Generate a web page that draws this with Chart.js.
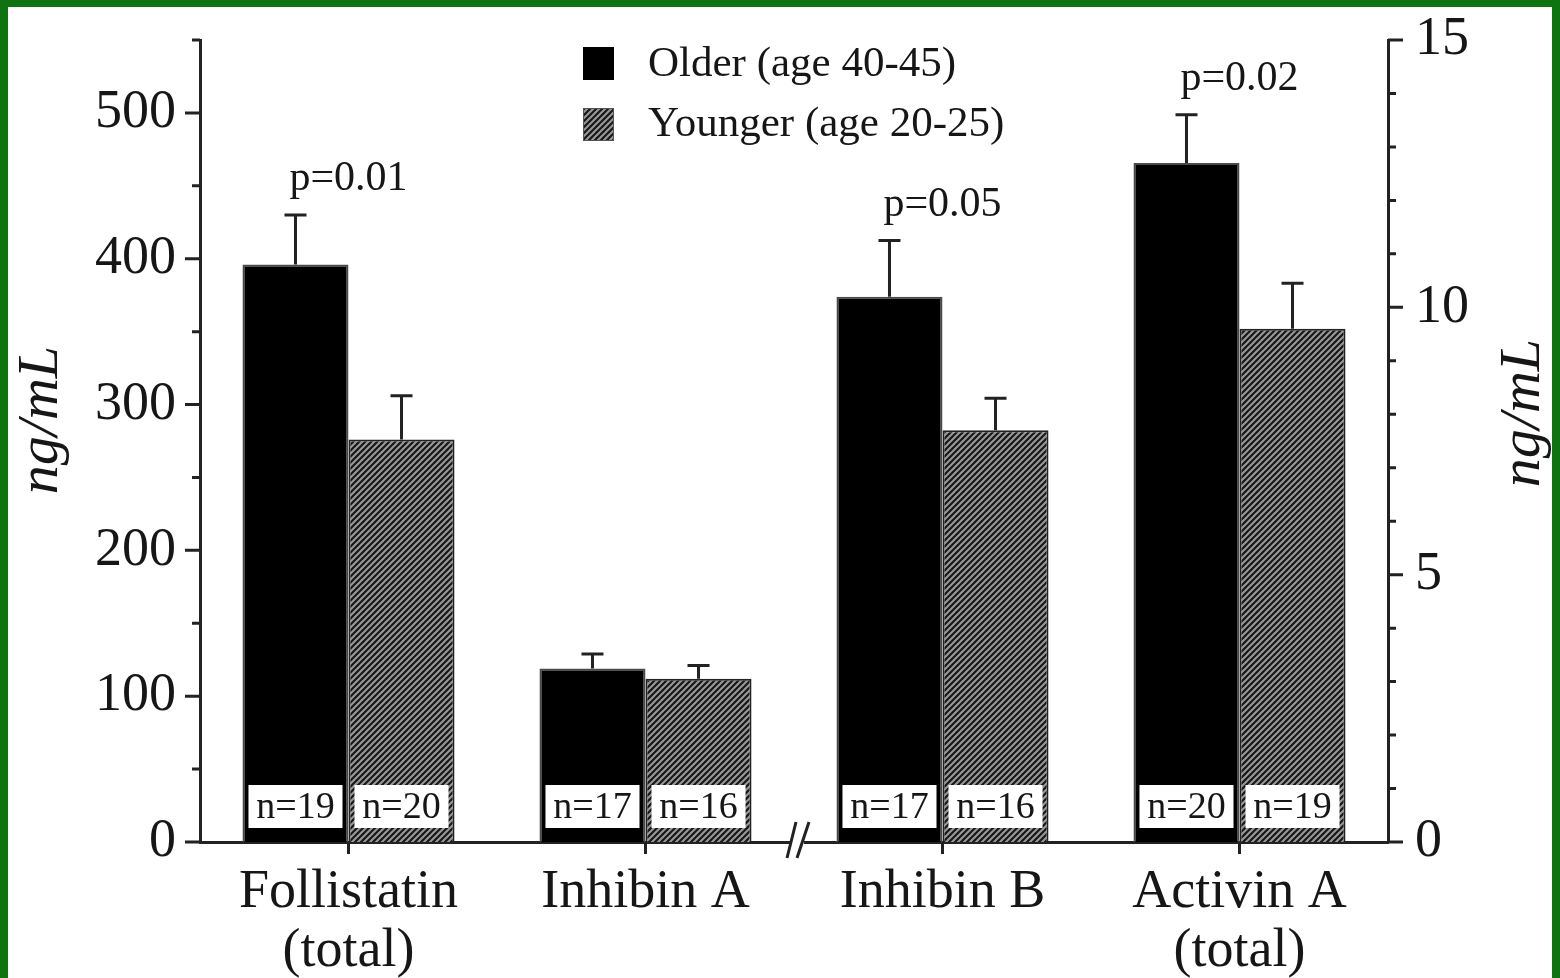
<!DOCTYPE html>
<html>
<head>
<meta charset="utf-8">
<script src="https://cdn.jsdelivr.net/npm/chart.js@4"></script>
<style>
  html, body { margin: 0; padding: 0; background: #fff; }
  canvas { display: block; }
</style>
</head>
<body>
<canvas id="myChart" width="1560" height="978"></canvas>
<script>
// values
const categories = [["Follistatin", "(total)"], "Inhibin A", "Inhibin B", ["Activin A", "(total)"]];
const axisSide = ["left", "left", "right", "right"];
const older = [396, 119, 10.2, 12.7];
const younger = [276, 112, 7.7, 9.6];
const olderErr = [34, 10, 1.05, 0.9];
const youngerErr = [30, 9, 0.6, 0.85];
const olderN = [19, 17, 17, 20];
const youngerN = [20, 16, 16, 19];
const pLabels = ["p=0.01", null, "p=0.05", "p=0.02"];
const leftTicks = [0, 100, 200, 300, 400, 500];
const rightTicks = [0, 5, 10, 15];

const serif = "'Liberation Serif', 'DejaVu Serif', serif";
const ink = "#161616";

function pick(arr, side) {
  return arr.map((v, i) => (axisSide[i] === side ? v : null));
}

// diagonal hatch for the younger group
function makeHatch() {
  let c = document.createElement("canvas");
  c.width = 6;
  c.height = 6;
  let g = c.getContext("2d");
  g.fillStyle = "#181818";
  g.fillRect(0, 0, 6, 6);
  g.strokeStyle = "#9a9a9a";
  g.lineWidth = 2;
  g.beginPath();
  g.moveTo(0, 6); g.lineTo(6, 0);
  g.moveTo(-3, 3); g.lineTo(3, -3);
  g.moveTo(3, 9); g.lineTo(9, 3);
  g.stroke();
  return g.createPattern(c, "repeat");
}
const hatch = makeHatch();

const errs = [olderErr, youngerErr, olderErr, youngerErr];
const ns = [olderN, youngerN, olderN, youngerN];

const extras = {
  id: "extras",
  beforeDraw(chart) {
    let ctx = chart.ctx;
    ctx.save();
    ctx.fillStyle = "#fff";
    ctx.fillRect(0, 0, chart.width, chart.height);
    ctx.restore();
  },
  afterDatasetsDraw(chart) {
    let ctx = chart.ctx;
    ctx.save();
    chart.data.datasets.forEach((ds, di) => {
      let meta = chart.getDatasetMeta(di);
      let yScale = chart.scales[ds.yAxisID];
      meta.data.forEach((bar, i) => {
        let v = ds.data[i];
        if (v === null || v === undefined) return;
        // error whisker (upper only)
        let top = yScale.getPixelForValue(v + errs[di][i]);
        ctx.strokeStyle = "#222";
        ctx.lineWidth = 3;
        ctx.beginPath();
        ctx.moveTo(bar.x, bar.y);
        ctx.lineTo(bar.x, top);
        ctx.moveTo(bar.x - 11, top);
        ctx.lineTo(bar.x + 11, top);
        ctx.stroke();
        // n= box
        let l = bar.x - bar.width / 2 + 6;
        let r = bar.x + bar.width / 2 - 6;
        let b = bar.base - 14;
        ctx.fillStyle = "#fff";
        ctx.fillRect(l, b - 43, r - l, 43);
        ctx.fillStyle = ink;
        ctx.font = "38px " + serif;
        ctx.textAlign = "center";
        ctx.textBaseline = "middle";
        ctx.fillText("n=" + ns[di][i], bar.x, b - 20);
      });
    });
    // p values above each pair
    let x = chart.scales.x;
    pLabels.forEach((p, i) => {
      if (!p) return;
      let sc = axisSide[i] === "left" ? chart.scales.y : chart.scales.y2;
      let top = sc.getPixelForValue(older[i] + olderErr[i]);
      ctx.fillStyle = ink;
      ctx.font = "42px " + serif;
      ctx.textAlign = "center";
      ctx.textBaseline = "middle";
      ctx.fillText(p, x.getPixelForValue(i), top - 36);
    });
    ctx.restore();
  },
  afterDraw(chart) {
    let ctx = chart.ctx;
    let a = chart.chartArea;
    let y = chart.scales.y, y2 = chart.scales.y2, x = chart.scales.x;
    ctx.save();
    ctx.strokeStyle = "#222";
    ctx.lineWidth = 3;
    ctx.beginPath();
    for (let v = 0; v <= 550; v += 50) {
      let py = y.getPixelForValue(v);
      let len = v % 100 === 0 ? 15 : 8;
      ctx.moveTo(a.left - len, py);
      ctx.lineTo(a.left, py);
    }
    for (let v = 0; v <= 15; v += 1) {
      let py = y2.getPixelForValue(v);
      let len = v % 5 === 0 ? 15 : 8;
      ctx.moveTo(a.right, py);
      ctx.lineTo(a.right + len, py);
    }
    categories.forEach((c, i) => {
      let px = x.getPixelForValue(i);
      ctx.moveTo(px, a.bottom);
      ctx.lineTo(px, a.bottom + 12);
    });
    ctx.stroke();

    // axis break between the two groups
    let bx = x.getPixelForValue(1.5) + 3;
    ctx.fillStyle = "#fff";
    ctx.fillRect(bx - 7, a.bottom - 4, 14, 8);
    ctx.lineWidth = 3;
    ctx.beginPath();
    ctx.moveTo(bx - 10, a.bottom + 16);
    ctx.lineTo(bx - 1, a.bottom - 20);
    ctx.moveTo(bx, a.bottom + 16);
    ctx.lineTo(bx + 12, a.bottom - 20);
    ctx.stroke();

    // axis titles
    ctx.fillStyle = ink;
    ctx.font = "italic 58px " + serif;
    ctx.textAlign = "center";
    ctx.textBaseline = "middle";
    [[42, 420], [1524, 413]].forEach(pt => {
      ctx.save();
      ctx.translate(pt[0], pt[1]);
      ctx.rotate(-Math.PI / 2);
      ctx.fillText("ng/mL", 0, 0);
      ctx.restore();
    });

    // legend
    ctx.fillStyle = "#000";
    ctx.fillRect(583, 47, 31, 33);
    ctx.fillStyle = hatch;
    ctx.fillRect(583, 108, 31, 33);
    ctx.strokeStyle = "#555";
    ctx.lineWidth = 1;
    ctx.strokeRect(583.5, 108.5, 30, 32);
    ctx.fillStyle = ink;
    ctx.font = "43px " + serif;
    ctx.textAlign = "left";
    ctx.fillText("Older (age 40-45)", 648, 65);
    ctx.fillText("Younger (age 20-25)", 648, 125);

    // green frame
    ctx.fillStyle = "#0e7410";
    ctx.fillRect(0, 0, chart.width, 7);
    ctx.fillRect(0, 0, 8, chart.height);
    ctx.fillRect(chart.width - 8, 0, 8, chart.height);
    ctx.restore();
  }
};

function barSet(label, data, axis, fill, edge) {
  return {
    label: label,
    data: data,
    yAxisID: axis,
    backgroundColor: fill,
    borderColor: edge,
    borderWidth: 2,
    skipNull: true,
    categoryPercentage: 0.714,
    barPercentage: 1.0
  };
}

let ctx = document.getElementById("myChart").getContext("2d");
let chart = new Chart(ctx, {
  type: "bar",
  data: {
    labels: categories,
    datasets: [
      barSet("Older (age 40-45)", pick(older, "left"), "y", "#000", "#4a4a4a"),
      barSet("Younger (age 20-25)", pick(younger, "left"), "y", hatch, "#222"),
      barSet("Older (age 40-45)", pick(older, "right"), "y2", "#000", "#4a4a4a"),
      barSet("Younger (age 20-25)", pick(younger, "right"), "y2", hatch, "#222")
    ]
  },
  options: {
    responsive: false,
    animation: false,
    devicePixelRatio: 1,
    layout: { padding: { top: 40, left: 0, right: 0, bottom: 0 } },
    plugins: {
      legend: { display: false },
      tooltip: { enabled: false }
    },
    scales: {
      x: {
        type: "category",
        offset: true,
        grid: { display: false, drawTicks: false },
        border: { display: true, color: "#222", width: 3 },
        ticks: {
          font: { family: serif, size: 54, lineHeight: 1.1 },
          color: ink,
          padding: 21,
          maxRotation: 0,
          autoSkip: false
        },
        afterFit: s => { s.height = 136; s.paddingLeft = 0; s.paddingRight = 0; }
      },
      y: {
        position: "left",
        min: 0,
        max: 550,
        afterBuildTicks: s => { s.ticks = leftTicks.map(v => ({ value: v })); },
        grid: { display: false, drawTicks: false },
        border: { display: true, color: "#222", width: 3 },
        ticks: { font: { family: serif, size: 54 }, color: ink, padding: 24 },
        afterFit: s => { s.width = 200; s.paddingTop = 0; s.paddingBottom = 0; }
      },
      y2: {
        position: "right",
        min: 0,
        max: 15,
        afterBuildTicks: s => { s.ticks = rightTicks.map(v => ({ value: v })); },
        grid: { display: false, drawTicks: false },
        border: { display: true, color: "#222", width: 3 },
        ticks: { font: { family: serif, size: 54 }, color: ink, padding: 27 },
        afterFit: s => { s.width = 172; s.paddingTop = 0; s.paddingBottom = 0; }
      }
    }
  },
  plugins: [extras]
});
</script>
</body>
</html>
